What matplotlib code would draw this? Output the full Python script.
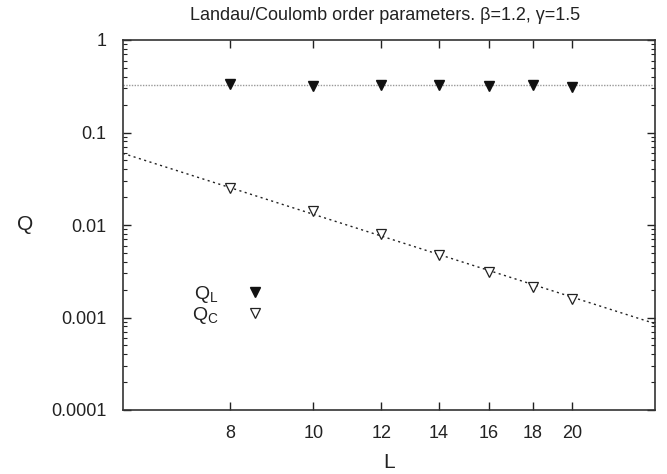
import numpy as np
import matplotlib
matplotlib.use('Agg')
import matplotlib.pyplot as plt
from matplotlib.ticker import FixedLocator, FixedFormatter, LogLocator, NullFormatter

plt.rcParams['font.family'] = ['Liberation Sans', 'DejaVu Sans']
plt.rcParams['mathtext.fontset'] = 'custom'
plt.rcParams['mathtext.rm'] = 'Liberation Sans'
plt.rcParams['mathtext.default'] = 'regular'

# data
L = np.array([8, 10, 12, 14, 16, 18, 20])
QL = np.array([0.338, 0.317, 0.326, 0.326, 0.317, 0.330, 0.313])
QC = np.array([0.0250, 0.0141, 0.0080, 0.00476, 0.00311, 0.00212, 0.00159])

# fits
QL_fit = 0.33           # constant
QC_exp = -2.97
QC_amp = 0.0595 * 6 ** 2.97   # power law amp * L^exp

x_ticks = [8, 10, 12, 14, 16, 18, 20]
y_ticks = [1e-4, 1e-3, 1e-2, 1e-1, 1]
y_ticklabels = ['0.0001', '0.001', '0.01', '0.1', '1']
xlim = (6, 25)
ylim = (1e-4, 1)

fig = plt.figure(figsize=(6.67, 4.74), dpi=100)
ax = fig.add_axes([123/667, 1-410/474, (655-123)/667, 370/474])
ax.set_xscale('log')
ax.set_yscale('log')

xx = np.array(xlim)
ax.plot(xx, [QL_fit, QL_fit], ls=(0, (1, 1)), color='#999999', lw=1.0)
ax.plot(xx, QC_amp * xx ** QC_exp, ls=(0, (1.5, 2.5)), color='#222222', lw=1.0)

ax.plot(L, QL, 'v', ms=7, mfc='#111111', mec='#111111', label='Q$_L$')
ax.plot(L, QC, 'v', ms=7, mfc='white', mec='#222222', mew=0.9, label='Q$_C$')

ax.set_xlim(*xlim)
ax.set_ylim(*ylim)

ax.xaxis.set_major_locator(FixedLocator(x_ticks))
ax.xaxis.set_major_formatter(FixedFormatter([str(t) for t in x_ticks]))
ax.xaxis.set_minor_locator(FixedLocator([]))
ax.yaxis.set_major_locator(FixedLocator(y_ticks))
ax.yaxis.set_major_formatter(FixedFormatter(y_ticklabels))
ax.yaxis.set_minor_locator(LogLocator(base=10, subs=np.arange(2, 10)))
ax.yaxis.set_minor_formatter(NullFormatter())

ax.tick_params(which='both', direction='in', top=True, right=True, colors='#222222',
               labelcolor='#222222', labelsize=13)
ax.tick_params(which='major', length=6, width=1)
ax.tick_params(which='minor', length=3, width=0.8)
ax.tick_params(axis='y', pad=12)
ax.tick_params(axis='x', pad=11)
for s in ax.spines.values():
    s.set_linewidth(1.2)
    s.set_color('#333333')

ax.set_ylabel('Q', rotation=0, fontsize=15, color='#222222')
ax.yaxis.set_label_coords(-0.184, 0.5)
ax.set_xlabel('L', fontsize=15, color='#222222')
ax.xaxis.set_label_coords(0.5, -0.143)
ax.xaxis.label.set_va('center')
ax.yaxis.label.set_va('center')

fig.text(0.578, 0.968, 'Landau/Coulomb order parameters. \u03b2=1.2, \u03b3=1.5',
         ha='center', va='center', fontsize=13, color='#222222')

leg = ax.legend(loc='upper left', bbox_to_anchor=(0.111, 0.368), frameon=False,
                markerfirst=False, numpoints=1, handlelength=1.0, handletextpad=1.4,
                labelspacing=0.0, borderpad=0, fontsize=14)
for t in leg.get_texts():
    t.set_color('#222222')

fig.savefig('out.png', dpi=100)
